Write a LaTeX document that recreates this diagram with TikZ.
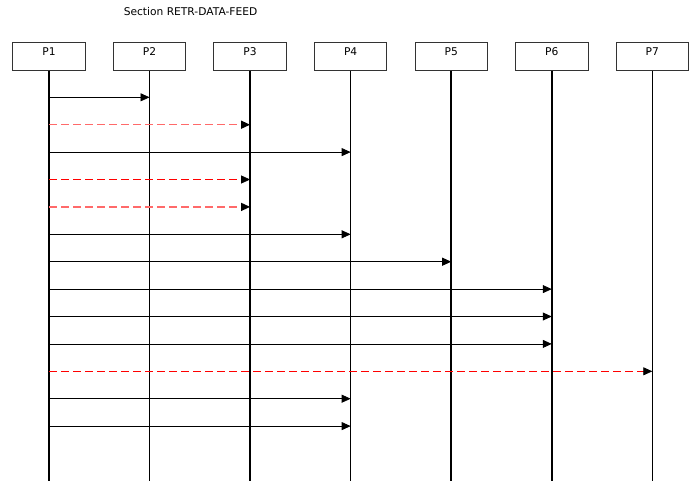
\documentclass[tikz,border=0pt]{standalone}
\usepackage{fontspec}
\setmainfont{DejaVu Sans}
\usetikzlibrary{positioning,arrows.meta}
\definecolor{edge}{HTML}{333333}
\definecolor{softred}{HTML}{FF6A6A}

\begin{document}
\begin{tikzpicture}[x=1pt, y=-1pt,
  font=\fontsize{10.67}{12.8}\selectfont,
  box/.style={draw=edge, line width=0.9pt, inner xsep=0pt, inner ysep=0pt,
              minimum width=72.4pt, text height=12.9pt, text depth=14.5pt},
  life/.style={line width=1.6pt, draw=black},
  msg/.style={-{Triangle[length=9pt, width=8pt, black]}, line width=0.8pt, draw=black},
  reply/.style={msg, draw=softred, line width=1.2pt, dash pattern=on 8pt off 4pt},
  retry/.style={msg, draw=red, line width=0.8pt, dash pattern=on 8pt off 4pt}]
\useasboundingbox (0,0) rectangle (694,483);
\node[anchor=base] (title) at (190.5,15.3) {Section RETR-DATA-FEED};
% participants
\node[box] (p1) at (49,56.5) {P1};
\node[box, right=27.25pt of p1] (p2) {P2};
\node[box, right=27.25pt of p2] (p3) {P3};
\node[box, right=27.25pt of p3] (p4) {P4};
\node[box, right=27.25pt of p4] (p5) {P5};
\node[box, right=27.25pt of p5] (p6) {P6};
\node[box, right=27.25pt of p6] (p7) {P7};
\coordinate (bot) at (0,481);
\draw[life] (p1.south) -- (p1 |- bot);
\draw[life] (p2.south) -- (p2 |- bot);
\draw[life] (p3.south) -- (p3 |- bot);
\draw[life] (p4.south) -- (p4 |- bot);
\draw[life] (p5.south) -- (p5 |- bot);
\draw[life] (p6.south) -- (p6 |- bot);
\draw[life] (p7.south) -- (p7 |- bot);
% message rows
\coordinate (m1) at (0,97.3);
\coordinate (m2) at (0,124.7);
\coordinate (m3) at (0,152.1);
\coordinate (m4) at (0,179.5);
\coordinate (m5) at (0,206.9);
\coordinate (m6) at (0,234.3);
\coordinate (m7) at (0,261.7);
\coordinate (m8) at (0,289.1);
\coordinate (m9) at (0,316.5);
\coordinate (m10) at (0,343.9);
\coordinate (m11) at (0,371.3);
\coordinate (m12) at (0,398.7);
\coordinate (m13) at (0,426.1);
\draw[msg] (p1 |- m1) -- (p2 |- m1);
\draw[reply] (p1 |- m2) -- (p3 |- m2);
\draw[msg] (p1 |- m3) -- (p4 |- m3);
\draw[retry] (p1 |- m4) -- (p3 |- m4);
\draw[reply] (p1 |- m5) -- (p3 |- m5);
\draw[msg] (p1 |- m6) -- (p4 |- m6);
\draw[msg] (p1 |- m7) -- (p5 |- m7);
\draw[msg] (p1 |- m8) -- (p6 |- m8);
\draw[msg] (p1 |- m9) -- (p6 |- m9);
\draw[msg] (p1 |- m10) -- (p6 |- m10);
\draw[retry] (p1 |- m11) -- (p7 |- m11);
\draw[msg] (p1 |- m12) -- (p4 |- m12);
\draw[msg] (p1 |- m13) -- (p4 |- m13);
\end{tikzpicture}
\end{document}
